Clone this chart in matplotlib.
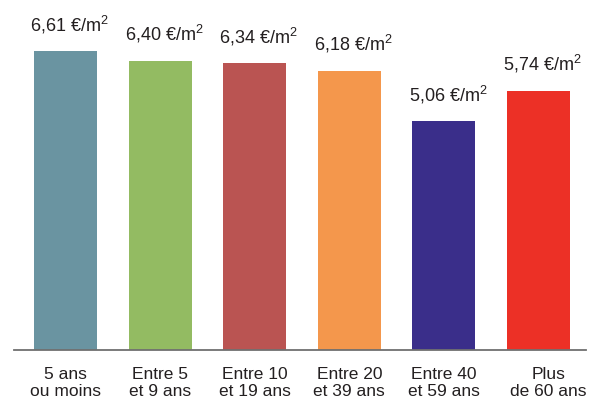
import matplotlib
matplotlib.use("Agg")
from matplotlib import pyplot as plt
from matplotlib.transforms import ScaledTranslation

# data
categories = ["5 ans\nou moins", "Entre 5\net 9 ans", "Entre 10\net 19 ans",
              "Entre 20\net 39 ans", "Entre 40\net 59 ans", "Plus\nde 60 ans"]
values = [6.61, 6.40, 6.34, 6.18, 5.06, 5.74]
value_labels = ["6,61 €/m$^{2}$", "6,40 €/m$^{2}$", "6,34 €/m$^{2}$",
                "6,18 €/m$^{2}$", "5,06 €/m$^{2}$", "5,74 €/m$^{2}$"]
colors = ["#6A94A1", "#93BB62", "#BA5452", "#F4974C", "#3A2E8A", "#EC3026"]

plt.rcParams['font.family'] = ['Liberation Sans', 'DejaVu Sans']
plt.rcParams['mathtext.fontset'] = 'custom'
plt.rcParams['mathtext.rm'] = 'Liberation Sans'
plt.rcParams['mathtext.it'] = 'Liberation Sans'
plt.rcParams['mathtext.default'] = 'regular'

W, H = 592, 405
fig = plt.figure(figsize=(W / 100, H / 100), dpi=100)
# axes box in pixels: left 14, right 586, baseline at y=350 from top
ax = fig.add_axes([14 / W, 55 / H, 572 / W, 350 / H])

x = list(range(len(values)))
ax.bar(x, values, width=0.666, color=colors, zorder=2)
ax.set_xlim(-0.544, 5.502)
ax.set_ylim(0, 350 / 45.2)

for xi, v, lab in zip(x, values, value_labels):
    ax.annotate(lab, (xi, v), xytext=(4, 20), textcoords="offset pixels",
                ha="center", va="baseline", fontsize=13, color="#231F20")

ax.set_xticks(x)
ax.set_xticklabels(categories, fontsize=12.5, color="#231F20", linespacing=1.2)
ax.tick_params(axis="x", length=0, pad=12)
ax.set_yticks([])
# last label sits a bit to the right in the original
last = ax.get_xticklabels()[-1]
last.set_transform(last.get_transform() + ScaledTranslation(10 / 100, 0, fig.dpi_scale_trans))

for s in ["top", "right", "left"]:
    ax.spines[s].set_visible(False)
ax.spines["bottom"].set_color("#707070")
ax.spines["bottom"].set_linewidth(1.3)
ax.spines["bottom"].set_zorder(3)

fig.savefig("out.png", dpi=100)
